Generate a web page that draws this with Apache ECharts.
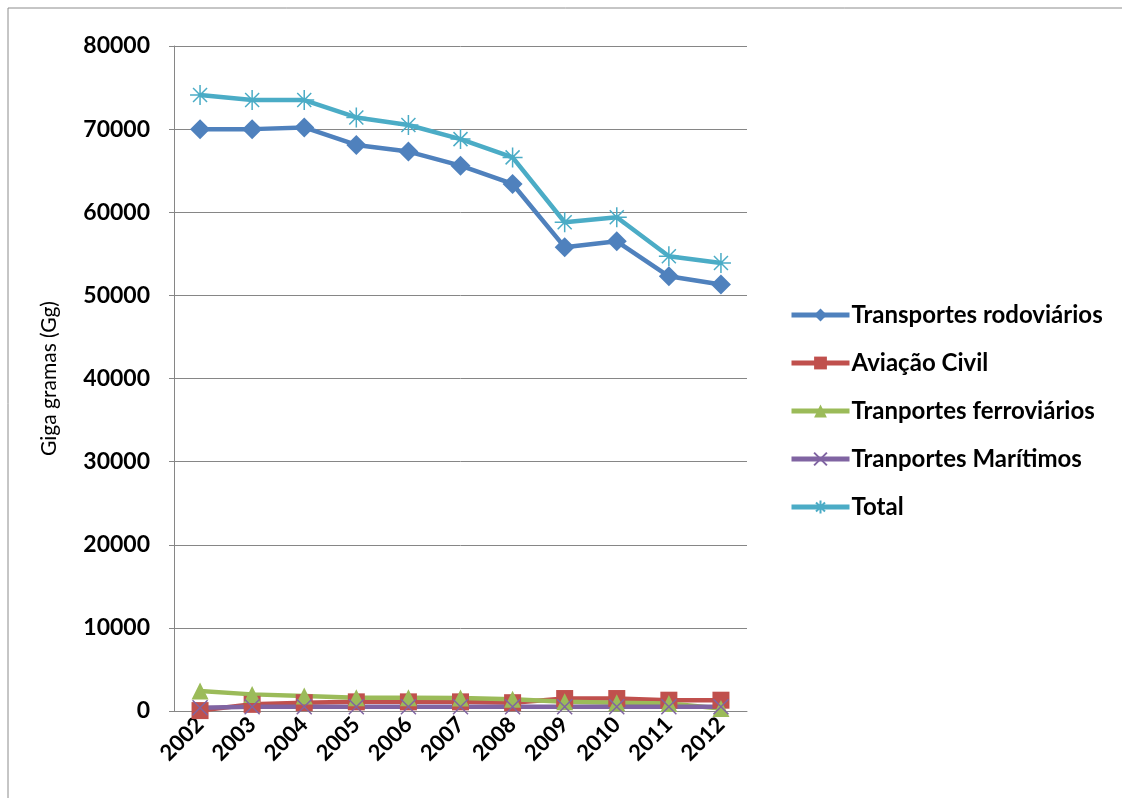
<!DOCTYPE html>
<html>
<head>
<meta charset="utf-8">
<script src="https://cdn.jsdelivr.net/npm/echarts@6/dist/echarts.min.js"></script>
<style>
  html, body { margin: 0; padding: 0; background: #fff; }
  #chart { width: 1122px; height: 798px; }
</style>
</head>
<body>
<div id="chart"></div>
<script>
// anos
const years = ["2002", "2003", "2004", "2005", "2006", "2007", "2008", "2009", "2010", "2011", "2012"];
// valores (Gg)
const rodoviarios = [70000, 70000, 70200, 68100, 67300, 65600, 63400, 55800, 56500, 52300, 51300];
const aviacao = [50, 800, 1000, 1100, 1100, 1100, 1000, 1500, 1500, 1300, 1300];
const ferroviarios = [2400, 2000, 1800, 1600, 1600, 1550, 1400, 1100, 1000, 900, 300];
const maritimos = [400, 500, 500, 500, 500, 500, 500, 500, 500, 500, 500];
const total = [74100, 73500, 73500, 71400, 70500, 68800, 66600, 58800, 59400, 54700, 53900];
const yTicks = [0, 10000, 20000, 30000, 40000, 50000, 60000, 70000, 80000];

const font = "Lato, 'Open Sans', sans-serif";
const xPath = "path://M0,0L10,10M10,0L0,10";
const starPath = "path://M5,0L5,10M0,5L10,5M1.5,1.5L8.5,8.5M8.5,1.5L1.5,8.5";

function line(name, data, color, symbol, size, stroke) {
  return {
    name: name,
    type: "line",
    data: data,
    symbol: symbol,
    symbolSize: size,
    showAllSymbol: true,
    lineStyle: { color: color, width: 4.5 },
    itemStyle: stroke
      ? { color: "rgba(0,0,0,0)", borderColor: color, borderWidth: 1.5 }
      : { color: color },
    z: 2
  };
}

let myChart = echarts.init(document.getElementById("chart"));
myChart.setOption({
  animation: false,
  backgroundColor: "#fff",
  graphic: [
    {
      type: "rect",
      shape: { x: 8, y: 8, width: 1200, height: 900 },
      style: { fill: "none", stroke: "#8c8c8c", lineWidth: 1 }
    }
  ],
  grid: { left: 174, right: 375, top: 46, bottom: 87 },
  legend: {
    orient: "vertical",
    left: 784,
    top: 297,
    itemWidth: 58,
    itemHeight: 16,
    itemGap: 22,
    lineStyle: { width: 5 },
    textStyle: {
      fontFamily: font, fontWeight: "bold", fontSize: 24, lineHeight: 26,
      color: "#000", padding: [0, 0, 0, -3]
    },
    data: ["Transportes rodoviários", "Aviação Civil", "Tranportes ferroviários", "Tranportes Marítimos", "Total"]
  },
  xAxis: {
    type: "category",
    data: years,
    boundaryGap: true,
    axisLine: { lineStyle: { color: "#868686" } },
    axisTick: { show: false },
    axisLabel: {
      rotate: 45,
      fontFamily: font,
      fontWeight: "bold",
      fontSize: 22,
      color: "#000",
      margin: 10
    }
  },
  yAxis: {
    type: "value",
    min: yTicks[0],
    max: yTicks[yTicks.length - 1],
    interval: 10000,
    name: "Giga gramas (Gg)",
    nameLocation: "middle",
    nameGap: 114,
    nameTextStyle: { fontFamily: font, fontSize: 21, color: "#000" },
    axisLine: { show: true, lineStyle: { color: "#868686" } },
    axisTick: { show: true, length: 5, lineStyle: { color: "#868686" } },
    axisLabel: {
      fontFamily: font, fontWeight: "bold", fontSize: 23, color: "#000", margin: 24,
      formatter: function (v) { return String(v); }
    },
    splitLine: { lineStyle: { color: "#868686", width: 1 } }
  },
  series: [
    line("Transportes rodoviários", rodoviarios, "#4F81BD", "diamond", 20, false),
    line("Aviação Civil", aviacao, "#C0504D", "rect", 17, false),
    line("Tranportes ferroviários", ferroviarios, "#9BBB59", "triangle", 17, false),
    line("Tranportes Marítimos", maritimos, "#8064A2", xPath, 15, true),
    line("Total", total, "#4BACC6", starPath, 20, true)
  ]
});
</script>
</body>
</html>
